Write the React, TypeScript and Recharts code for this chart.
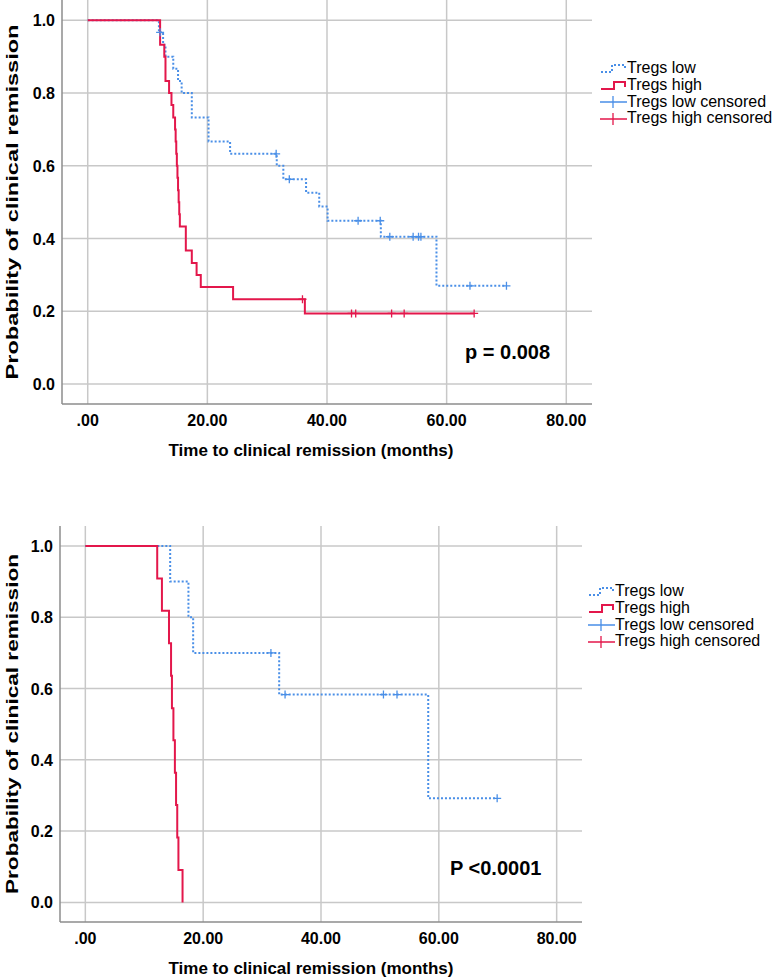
import React from 'react';
import { ComposedChart, Line, Scatter, XAxis, YAxis, ReferenceLine, Label } from 'recharts';

// [time (months), survival] pairs – each pair is a step (stepAfter)
const topLowSteps = [
  [0, 1], [11.9, 0.967], [12.6, 0.933], [13.0, 0.9], [14.3, 0.867], [15.1, 0.833],
  [15.7, 0.8], [17.4, 0.733], [20.2, 0.667], [23.8, 0.633], [31.6, 0.6], [32.7, 0.563],
  [36.5, 0.526], [38.7, 0.488], [40.1, 0.449], [49.0, 0.405], [58.3, 0.27], [70.0, 0.27],
];
const topLowCensored = [12.1, 31.5, 33.7, 45.2, 48.9, 50.5, 54.4, 55.3, 55.7, 63.9, 70.0];

const topHighSteps = [
  [0, 1], [12.1, 0.933], [12.8, 0.9], [13.0, 0.833], [13.6, 0.8], [14.0, 0.767],
  [14.3, 0.733], [14.6, 0.7], [14.7, 0.667], [14.8, 0.633], [14.9, 0.6], [15.0, 0.567],
  [15.1, 0.533], [15.2, 0.5], [15.3, 0.467], [15.4, 0.433], [16.4, 0.367], [17.4, 0.333],
  [18.2, 0.3], [18.9, 0.267], [24.3, 0.233], [36.3, 0.194], [64.6, 0.194],
];
const topHighCensored = [35.9, 44.1, 44.8, 50.8, 52.9, 64.6];

const bottomLowSteps = [
  [0, 1], [14.4, 0.9], [17.5, 0.8], [18.3, 0.7], [32.9, 0.583], [58.2, 0.292], [69.9, 0.292],
];
const bottomLowCensored = [31.5, 33.9, 50.6, 52.9, 69.9];

const bottomHighSteps = [
  [0, 1], [12.2, 0.909], [13.0, 0.818], [14.2, 0.727], [14.55, 0.636], [14.7, 0.545],
  [14.95, 0.455], [15.2, 0.364], [15.4, 0.273], [15.6, 0.182], [15.8, 0.091], [16.5, 0],
];
const bottomHighCensored: number[] = [];

const xTicks = [0, 20, 40, 60, 80];
const yTicks = [0, 0.2, 0.4, 0.6, 0.8, 1.0];
const legendLabels = ['Tregs low', 'Tregs high', 'Tregs low censored', 'Tregs high censored'];

const BLUE = '#4a8fe7';
const RED = '#e3174b';
const GRID = '#c8c8c8';
const FONT = '"Liberation Sans", Arial, Helvetica, sans-serif';

const toPoints = (steps: number[][]) => steps.map(([t, s]) => ({ t, s }));

// censored marks sit on the curve at their time
const censorPoints = (times: number[], steps: number[][]) =>
  times.map((t) => {
    let s = 1;
    steps.forEach(([st, sv]) => {
      if (st <= t) s = sv;
    });
    return { t, s };
  });

const XTick = (props: any) => {
  const { x, y, payload } = props;
  const v = payload.value;
  return (
    <text x={x} y={y + 22} textAnchor="middle" fontSize={16} fontWeight={700} fill="#000" fontFamily={FONT}>
      {v === 0 ? '.00' : v.toFixed(2)}
    </text>
  );
};

const YTick = (props: any) => {
  const { x, y, payload } = props;
  return (
    <text x={x - 7} y={y + 6} textAnchor="end" fontSize={16} fontWeight={700} fill="#000" fontFamily={FONT}>
      {payload.value.toFixed(1)}
    </text>
  );
};

const XTitle = (props: any) => {
  const { viewBox } = props;
  return (
    <text x={311} y={viewBox.y + 52} textAnchor="middle" fontSize={17} fontWeight={700} fill="#000" fontFamily={FONT}>
      Time to clinical remission (months)
    </text>
  );
};

const YTitle = (props: any) => {
  const { viewBox, len } = props;
  const cy = viewBox.y + viewBox.height / 2;
  return (
    <text
      transform={`translate(18,${cy}) rotate(-90)`}
      textAnchor="middle"
      fontSize={17}
      fontWeight={700}
      fill="#000"
      fontFamily={FONT}
      textLength={len}
      lengthAdjust="spacingAndGlyphs"
    >
      Probability of clinical remission
    </text>
  );
};

const censorShape = (color: string) => (props: any) => {
  const { cx, cy } = props;
  if (cx == null || cy == null) return <g />;
  return (
    <path d={`M${cx - 4},${cy}H${cx + 4}M${cx},${cy - 4}V${cy + 4}`} stroke={color} strokeWidth={1.3} fill="none" />
  );
};

const LegendIcon = ({ index }: { index: number }) => {
  if (index === 0)
    return (
      <svg width={27} height={17}>
        <path d="M1,12 H12 V5 H25 V9" stroke={BLUE} strokeWidth={2} strokeDasharray="2 2" fill="none" />
      </svg>
    );
  if (index === 1)
    return (
      <svg width={27} height={17}>
        <path d="M1,12 H14 V5 H25 V10" stroke={RED} strokeWidth={2} fill="none" />
      </svg>
    );
  const c = index === 2 ? BLUE : RED;
  return (
    <svg width={27} height={17}>
      <path d="M0,9 H27 M13,3 V15" stroke={c} strokeWidth={1.3} fill="none" />
    </svg>
  );
};

const KMLegend = ({ left, top }: { left: number; top: number }) => (
  <div style={{ position: 'absolute', left, top, fontFamily: FONT, fontSize: 16, color: '#000' }}>
    {legendLabels.map((name, i) => (
      <div key={name} style={{ display: 'flex', alignItems: 'center', height: 16.7, whiteSpace: 'nowrap' }}>
        <LegendIcon index={i} />
        <span style={{ lineHeight: '16px' }}>{name}</span>
      </div>
    ))}
  </div>
);

const KMPanel = (props: any) => {
  const { width, height, margin, low, lowCens, high, highCens, yLen } = props;
  return (
    <ComposedChart width={width} height={height} margin={margin}>
      {/* grid only at the tick values, nothing on the plot edges */}
      {yTicks.map((v) => (
        <ReferenceLine key={`gy${v}`} y={v} stroke={GRID} strokeWidth={1.5} />
      ))}
      {xTicks.map((v) => (
        <ReferenceLine key={`gx${v}`} x={v} stroke={GRID} strokeWidth={1.5} />
      ))}
      <XAxis
        dataKey="t"
        type="number"
        domain={[-4.3, 84.3]}
        ticks={xTicks}
        allowDataOverflow
        height={30}
        tickSize={0}
        tickMargin={0}
        tickLine={false}
        axisLine={{ stroke: '#8c8c8c', strokeWidth: 1.5 }}
        tick={<XTick />}
        interval={0}
      >
        <Label content={<XTitle />} />
      </XAxis>
      <YAxis
        dataKey="s"
        type="number"
        domain={[-0.055, 1.056]}
        ticks={yTicks}
        allowDataOverflow
        width={40}
        tickSize={0}
        tickMargin={0}
        tickLine={false}
        axisLine={{ stroke: '#8c8c8c', strokeWidth: 1.5 }}
        tick={<YTick />}
        interval={0}
      >
        <Label content={<YTitle len={yLen} />} />
      </YAxis>
      <Line
        data={toPoints(low)}
        dataKey="s"
        type="stepAfter"
        stroke={BLUE}
        strokeWidth={2}
        strokeDasharray="2 2"
        dot={false}
        activeDot={false}
        isAnimationActive={false}
      />
      <Scatter data={censorPoints(lowCens, low)} dataKey="s" shape={censorShape(BLUE)} isAnimationActive={false} />
      <Line
        data={toPoints(high)}
        dataKey="s"
        type="stepAfter"
        stroke={RED}
        strokeWidth={2}
        dot={false}
        activeDot={false}
        isAnimationActive={false}
      />
      <Scatter data={censorPoints(highCens, high)} dataKey="s" shape={censorShape(RED)} isAnimationActive={false} />
    </ComposedChart>
  );
};

export default function App() {
  return (
    <div style={{ position: 'absolute', left: 0, top: 0, width: 777, height: 978, background: '#fff', overflow: 'hidden' }}>
      <div style={{ position: 'absolute', left: 0, top: 0 }}>
        <KMPanel
          width={777}
          height={470}
          margin={{ top: 0, right: 185, left: 22, bottom: 36 }}
          low={topLowSteps}
          lowCens={topLowCensored}
          high={topHighSteps}
          highCens={topHighCensored}
          yLen={355}
        />
      </div>
      <KMLegend left={600} top={60} />
      <div style={{ position: 'absolute', left: 465, top: 340, fontFamily: FONT, fontSize: 20, fontWeight: 700, lineHeight: '24px' }}>
        p = 0.008
      </div>

      <div style={{ position: 'absolute', left: 0, top: 500 }}>
        <KMPanel
          width={777}
          height={478}
          margin={{ top: 26, right: 195, left: 20, bottom: 26 }}
          low={bottomLowSteps}
          lowCens={bottomLowCensored}
          high={bottomHighSteps}
          highCens={bottomHighCensored}
          yLen={340}
        />
      </div>
      <KMLegend left={588} top={583} />
      <div style={{ position: 'absolute', left: 450, top: 856, fontFamily: FONT, fontSize: 20, fontWeight: 700, lineHeight: '24px' }}>
        P &lt;0.0001
      </div>
    </div>
  );
}
